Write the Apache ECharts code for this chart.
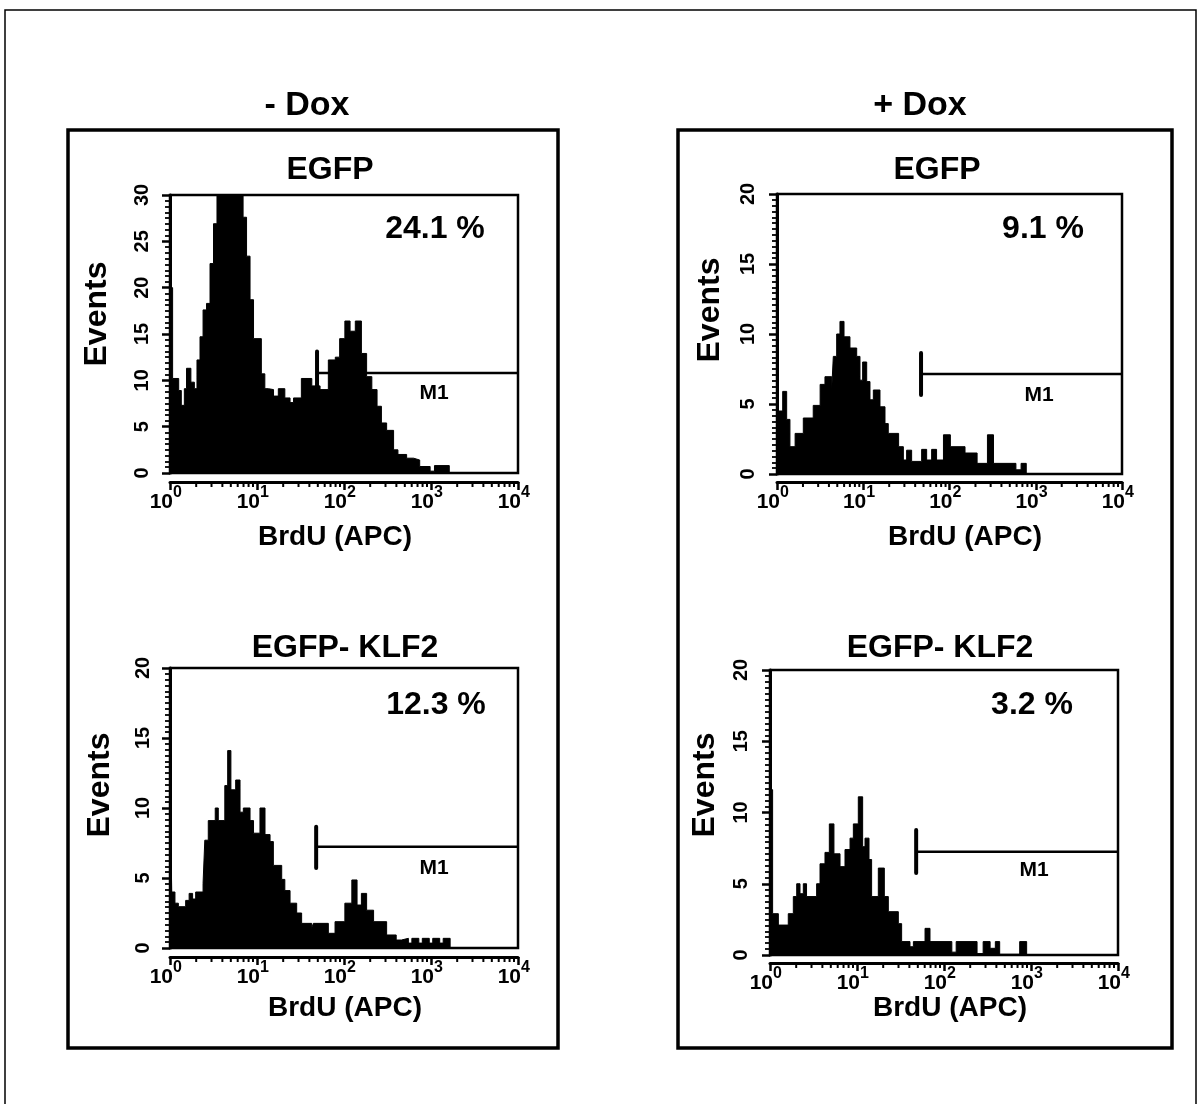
<!DOCTYPE html>
<html><head><meta charset="utf-8">
<script src="https://cdn.jsdelivr.net/npm/echarts@6/dist/echarts.min.js"></script>
<style>html,body{margin:0;padding:0;background:#fff}#c{width:1200px;height:1104px}</style>
</head><body><div id="c"></div><script>
// ---- data (x in log10 of BrdU intensity; y = events) ----
const DECADES = [0, 1, 2, 3, 4];
const GROUP_TITLES = ['- Dox', '+ Dox'];
const PANEL_TITLES = ['EGFP', 'EGFP', 'EGFP- KLF2', 'EGFP- KLF2'];
const PERCENTS = ['24.1 %', '9.1 %', '12.3 %', '3.2 %'];
const Y_MAX = [30, 20, 20, 20];
const Y_TICKS_30 = [0, 5, 10, 15, 20, 25, 30];
const Y_TICKS_20 = [0, 5, 10, 15, 20];

const P1_X = [0, 0.03, 0.10, 0.13, 0.165, 0.19, 0.24, 0.28, 0.31, 0.345, 0.38, 0.42, 0.46, 0.50, 0.54, 0.84, 0.88, 0.92, 0.96, 1.05, 1.09, 1.13, 1.19, 1.245, 1.32, 1.38, 1.42, 1.51, 1.63, 1.725, 1.82, 1.90, 1.95, 2.01, 2.07, 2.13, 2.20, 2.26, 2.32, 2.38, 2.43, 2.49, 2.57, 2.62, 2.72, 2.80, 2.87, 2.99, 3.04, 3.21];
const P1_Y = [20, 10.2, 8.9, 7.3, 9.1, 11.3, 9.8, 9.1, 12.2, 14.7, 17.6, 18.3, 22.6, 26.9, 30, 27.6, 23.4, 18.7, 14.5, 10.7, 9.1, 9.0, 8.3, 9.1, 8.1, 7.6, 8.1, 10.2, 9.4, 9.0, 12.2, 12.5, 14.5, 16.4, 15.3, 16.4, 12.9, 10.4, 9.0, 7.2, 5.4, 4.6, 2.5, 2.0, 1.6, 1.4, 0.7, 0.2, 0.8, 0];

const P2_X = [0, 0.066, 0.112, 0.15, 0.21, 0.305, 0.42, 0.50, 0.556, 0.634, 0.653, 0.692, 0.73, 0.777, 0.846, 0.924, 0.962, 0.993, 1.04, 1.078, 1.117, 1.194, 1.252, 1.29, 1.41, 1.465, 1.503, 1.561, 1.677, 1.735, 1.793, 1.85, 1.93, 2.01, 2.18, 2.32, 2.44, 2.51, 2.77, 2.83, 2.89];
const P2_Y = [4.5, 5.9, 3.9, 1.95, 2.9, 4.0, 4.9, 6.4, 6.95, 6.0, 8.4, 10.0, 10.9, 9.8, 9.0, 8.4, 6.7, 8.0, 6.6, 5.3, 6.0, 4.8, 3.6, 2.9, 1.95, 1.0, 1.7, 0.9, 1.76, 1.0, 1.76, 1.0, 2.8, 1.95, 1.5, 0.76, 2.8, 0.76, 0.3, 0.76, 0];

const P3_X = [0, 0.02, 0.057, 0.096, 0.18, 0.22, 0.26, 0.295, 0.38, 0.40, 0.44, 0.52, 0.555, 0.63, 0.663, 0.70, 0.755, 0.805, 0.843, 0.92, 0.96, 1.034, 1.092, 1.15, 1.188, 1.284, 1.32, 1.38, 1.456, 1.513, 1.628, 1.648, 1.82, 1.897, 2.01, 2.09, 2.15, 2.20, 2.26, 2.34, 2.49, 2.60, 2.66, 2.74, 2.78, 2.86, 2.90, 2.98, 3.02, 3.10, 3.14, 3.22];
const P3_Y = [11.3, 4.0, 3.2, 2.95, 3.4, 3.9, 3.5, 4.0, 4.6, 7.7, 9.1, 10.0, 9.1, 11.6, 14.1, 11.3, 12.0, 9.7, 10.0, 9.1, 8.2, 10.0, 8.1, 7.6, 5.9, 4.9, 4.1, 3.2, 2.5, 1.76, 1.4, 1.76, 1.05, 1.88, 3.2, 4.86, 3.07, 3.9, 2.7, 1.88, 0.93, 0.57, 0.69, 0.35, 0.69, 0.35, 0.69, 0.35, 0.69, 0.35, 0.69, 0];

const P4_X = [0, 0.03, 0.096, 0.21, 0.268, 0.307, 0.345, 0.383, 0.42, 0.536, 0.575, 0.632, 0.682, 0.735, 0.805, 0.862, 0.92, 0.958, 1.015, 1.065, 1.092, 1.138, 1.168, 1.245, 1.314, 1.36, 1.475, 1.513, 1.609, 1.648, 1.782, 1.839, 2.09, 2.14, 2.38, 2.45, 2.53, 2.59, 2.64, 2.87, 2.95];
const P4_Y = [11.6, 2.9, 2.1, 2.9, 4.1, 5.0, 4.3, 5.0, 4.1, 5.0, 6.4, 7.2, 9.2, 7.1, 6.2, 7.4, 8.2, 9.2, 11.1, 7.6, 8.2, 6.7, 4.1, 6.1, 4.1, 3.04, 2.2, 0.94, 0.58, 0.94, 1.87, 0.94, 0.2, 0.94, 0.1, 0.94, 0.47, 0.94, 0.05, 0.94, 0];

// M1 gate: start (log10), level, vertical bar range
const M1_START = [1.69, 1.67, 1.68, 1.68];
const M1_LEVEL = [10.8, 7.14, 7.24, 7.25];
const M1_BAR_LO = [8.4, 5.64, 5.71, 5.75];
const M1_BAR_HI = [13.1, 8.64, 8.66, 8.77];

const PANELS_X = [P1_X, P2_X, P3_X, P4_X];
const PANELS_Y = [P1_Y, P2_Y, P3_Y, P4_Y];
const PANELS_YTICKS = [Y_TICKS_30, Y_TICKS_20, Y_TICKS_20, Y_TICKS_20];

// minor log ticks (2..9 in each decade)
const MINOR_TICKS = [];
for (let k = 0; k < 4; k++) for (let m = 2; m <= 9; m++) MINOR_TICKS.push(k + Math.log10(m));

// ---- layout ----
const FONT = '"Liberation Sans", Arial, Helvetica, sans-serif';
const GRIDS = [
  {left: 170, top: 195, width: 348, height: 278},
  {left: 777, top: 194, width: 345, height: 280},
  {left: 170, top: 668, width: 348, height: 280},
  {left: 770, top: 670, width: 348, height: 285}
];
const X_OFF = [9, 8, 9, 8];
const Y_OFF = [4, 5, 3, 5];
const MINOR_SPLIT = [8, 12, 12, 12];

const chart = echarts.init(document.getElementById('c'), null, {renderer: 'canvas'});

const grid = [], xAxis = [], yAxis = [], series = [];
GRIDS.forEach((g, i) => {
  grid.push(Object.assign({show: true, borderColor: '#000', borderWidth: 2.5, backgroundColor: 'transparent'}, g));
  xAxis.push({
    type: 'value', gridIndex: i, min: 0, max: 4, interval: 1, position: 'bottom', offset: X_OFF[i],
    axisLine: {show: true, onZero: false, lineStyle: {color: '#000', width: 3}},
    axisTick: {show: true, inside: false, length: 8, lineStyle: {color: '#000', width: 2.5}},
    splitLine: {show: false},
    axisLabel: {show: false}
  });
  yAxis.push({
    type: 'value', gridIndex: i, min: 0, max: Y_MAX[i], interval: 5, offset: Y_OFF[i],
    axisLine: {show: true, lineStyle: {color: '#000', width: 3}},
    axisTick: {show: true, inside: false, length: 8, lineStyle: {color: '#000', width: 2.5}},
    minorTick: {show: true, splitNumber: MINOR_SPLIT[i], length: 5, lineStyle: {color: '#000', width: 1.8}},
    splitLine: {show: false},
    axisLabel: {show: false}
  });
  // histogram
  series.push({
    type: 'line', xAxisIndex: i, yAxisIndex: i, step: 'end', symbol: 'none', silent: true,
    data: PANELS_X[i].map((x, j) => [x, PANELS_Y[i][j]]),
    lineStyle: {color: '#000', width: 1},
    areaStyle: {color: '#000', opacity: 1},
    z: 2
  });
  // M1 gate horizontal
  series.push({
    type: 'line', xAxisIndex: i, yAxisIndex: i, symbol: 'none', silent: true,
    data: [[M1_START[i], M1_LEVEL[i]], [4, M1_LEVEL[i]]],
    lineStyle: {color: '#000', width: 2.5}, z: 3
  });
  // M1 gate vertical bar
  series.push({
    type: 'line', xAxisIndex: i, yAxisIndex: i, symbol: 'none', silent: true,
    data: [[M1_START[i], M1_BAR_LO[i]], [M1_START[i], M1_BAR_HI[i]]],
    lineStyle: {color: '#000', width: 4, cap: 'round'}, z: 3
  });
  // minor log ticks on the x axis
  series.push({
    type: 'custom', xAxisIndex: i, yAxisIndex: i, silent: true, clip: false, z: 5,
    data: MINOR_TICKS.map(v => [v, 0]),
    encode: {x: 0, y: 1},
    renderItem: (params, api) => {
      const p = api.coord([api.value(0), 0]);
      const y0 = p[1] + X_OFF[i];
      return {type: 'line', shape: {x1: p[0], y1: y0, x2: p[0], y2: y0 + 5},
        style: {stroke: '#000', lineWidth: 2}};
    }
  });
});

function txt(x, y, text, size, rot, align, valign) {
  return {type: 'text', x: x, y: y, rotation: rot || 0, z: 10,
    style: {text: text, fill: '#000', font: 'bold ' + size + 'px ' + FONT,
      textAlign: align || 'center', textVerticalAlign: valign || 'middle'}};
}

const graphic = [
  {type: 'rect', shape: {x: 5, y: 10, width: 1191, height: 1120}, style: {fill: 'none', stroke: '#000', lineWidth: 1.5}, z: 0},
  {type: 'rect', shape: {x: 68, y: 130, width: 490, height: 918}, style: {fill: 'none', stroke: '#000', lineWidth: 3.5}, z: 0},
  {type: 'rect', shape: {x: 678, y: 130, width: 494, height: 918}, style: {fill: 'none', stroke: '#000', lineWidth: 3.5}, z: 0},
  txt(307, 106, GROUP_TITLES[0], 34),
  txt(920, 106, GROUP_TITLES[1], 34),
  txt(330, 170, PANEL_TITLES[0], 32),
  txt(937, 170, PANEL_TITLES[1], 32),
  txt(345, 648, PANEL_TITLES[2], 32),
  txt(940, 648, PANEL_TITLES[3], 32),
  txt(97, 314, 'Events', 32, Math.PI / 2),
  txt(710, 310, 'Events', 32, Math.PI / 2),
  txt(100, 785, 'Events', 32, Math.PI / 2),
  txt(705, 785, 'Events', 32, Math.PI / 2),
  txt(335, 537, 'BrdU (APC)', 28),
  txt(965, 537, 'BrdU (APC)', 28),
  txt(345, 1008, 'BrdU (APC)', 28),
  txt(950, 1008, 'BrdU (APC)', 28),
  txt(435, 229, PERCENTS[0], 32),
  txt(1043, 229, PERCENTS[1], 32),
  txt(436, 705, PERCENTS[2], 32),
  txt(1032, 705, PERCENTS[3], 32),
  txt(434, 393, 'M1', 21),
  txt(1039, 395, 'M1', 21),
  txt(434, 868, 'M1', 21),
  txt(1034, 870, 'M1', 21)
];

chart.setOption({
  backgroundColor: '#fff',
  animation: false,
  grid: grid, xAxis: xAxis, yAxis: yAxis, series: series, graphic: graphic
});

// tick labels placed through each panel's own axis scales
const labels = [];
GRIDS.forEach((g, i) => {
  const finder = {xAxisIndex: i, yAxisIndex: i};
  DECADES.forEach(v => {
    const p = chart.convertToPixel(finder, [v, 0]);
    const ax = p[1] + X_OFF[i];
    labels.push(txt(p[0] + 3, ax + 10, '10', 21, 0, 'right', 'top'));
    labels.push(txt(p[0] + 3, ax + 3, String(v), 16, 0, 'left', 'top'));
  });
  PANELS_YTICKS[i].forEach(v => {
    const p = chart.convertToPixel(finder, [0, v]);
    labels.push(txt(p[0] - Y_OFF[i] - 14, p[1], String(v), 20, Math.PI / 2, 'center', 'bottom'));
  });
});
chart.setOption({graphic: graphic.concat(labels)});
</script></body></html>
